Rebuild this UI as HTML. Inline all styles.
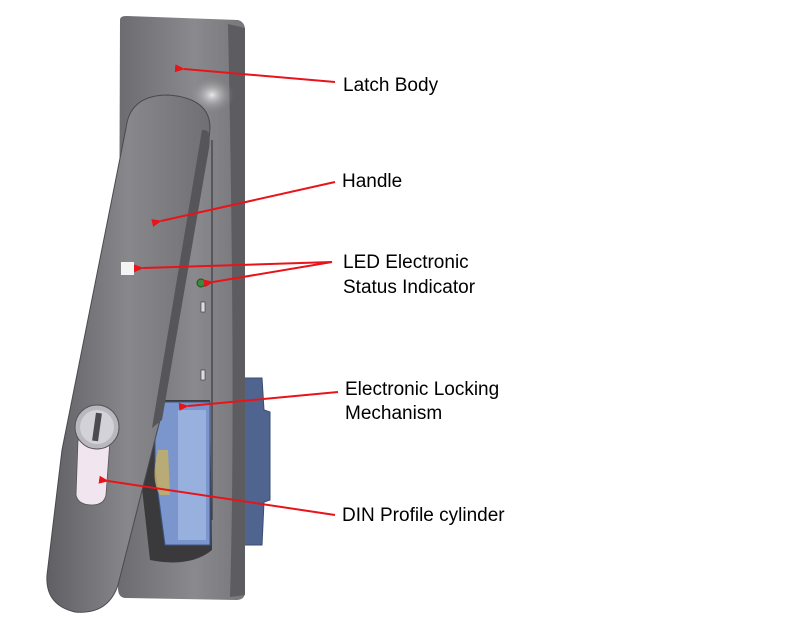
<!DOCTYPE html>
<html><head><meta charset="utf-8"><style>
html,body{margin:0;padding:0;background:#fff}
svg{display:block}
text{font-family:"Liberation Sans",Arial,sans-serif;font-size:19px;fill:#000}
</style></head><body>
<svg width="800" height="638" viewBox="0 0 800 638" xmlns="http://www.w3.org/2000/svg">
<defs>
<linearGradient id="body" x1="0" y1="0" x2="1" y2="0">
<stop offset="0" stop-color="#6c6c70"/><stop offset="0.6" stop-color="#8a8a8e"/><stop offset="1" stop-color="#77777b"/>
</linearGradient>
<linearGradient id="handle" x1="0" y1="0" x2="1" y2="0">
<stop offset="0" stop-color="#606064"/><stop offset="0.5" stop-color="#88888c"/><stop offset="1" stop-color="#707074"/>
</linearGradient>
<radialGradient id="hl" cx="0.5" cy="0.5" r="0.5">
<stop offset="0" stop-color="#e8e8ea"/><stop offset="1" stop-color="#8a8a8e" stop-opacity="0"/>
</radialGradient>
<marker id="ah" markerWidth="10" markerHeight="8" refX="1" refY="4" orient="auto-start-reverse" markerUnits="userSpaceOnUse">
<path d="M10,0 L0,4 L10,8 Z" fill="#e8141a"/>
</marker>
</defs>
<path d="M238,378 L262,378 L264,410 L270,412 L270,500 L264,502 L262,545 L238,545 Z" fill="#4f6590" stroke="#3a4c70"/>
<path d="M120,20 Q120,16 126,16 L238,20 Q245,22 245,30 L245,592 Q245,600 236,600 L126,598 Q118,598 118,588 Z" fill="url(#body)"/>
<path d="M228,24 L245,28 L245,595 L230,597 Q236,400 228,24 Z" fill="#5d5d61"/>
<ellipse cx="212" cy="95" rx="22" ry="18" fill="url(#hl)"/>
<line x1="212" y1="140" x2="212" y2="520" stroke="#4a4a4e" stroke-width="1.5"/>
<rect x="201" y="302" width="4" height="10" fill="#dcdcdc" stroke="#333" stroke-width="0.6"/>
<rect x="201" y="370" width="4" height="10" fill="#dcdcdc" stroke="#333" stroke-width="0.6"/>
<circle cx="201" cy="283" r="4" fill="#3c8a3c" stroke="#1f4f1f"/>
<path d="M150,400 L210,400 L212,550 Q190,568 150,560 L140,470 Z" fill="#3a3a3c"/>
<path d="M155,402 L210,402 L210,545 L165,545 L155,470 Z" fill="#7a96cc" stroke="#3d5588"/>
<rect x="178" y="410" width="28" height="130" fill="#97b0de"/>
<path d="M158,450 Q150,480 160,495 L170,495 L168,450 Z" fill="#c8b060" opacity="0.8"/>
<path d="M126,128 Q130,95 168,95 Q210,98 210,128 L208,150 L160,420 L118,585 Q108,615 75,612 Q45,605 47,575 L62,450 Z" fill="url(#handle)" stroke="#4a4a4e" stroke-width="1"/>
<path d="M202,130 Q212,128 209,148 L162,420 L152,428 Z" fill="#55555a"/>
<rect x="121" y="262" width="13" height="13" fill="#f4f4f4"/>
<path d="M78,440 L110,440 L106,495 Q104,505 92,505 Q78,505 76,495 Z" fill="#f1e6ef" stroke="#555" stroke-width="0.8"/>
<circle cx="97" cy="427" r="22" fill="#b8b8be" stroke="#555"/>
<circle cx="97" cy="427" r="17" fill="#d2d2d8"/>
<rect x="94" y="413" width="6" height="28" fill="#4a4a50" transform="rotate(8 97 427)"/>
<g stroke="#e8141a" stroke-width="2" fill="none">
<line x1="335" y1="82" x2="184" y2="69" marker-end="url(#ah)"/>
<line x1="335" y1="182" x2="161" y2="221" marker-end="url(#ah)"/>
<line x1="332" y1="262" x2="143" y2="268" marker-end="url(#ah)"/>
<line x1="332" y1="262" x2="213" y2="282" marker-end="url(#ah)"/>
<line x1="338" y1="392" x2="188" y2="406" marker-end="url(#ah)"/>
<line x1="335" y1="515" x2="108" y2="481" marker-end="url(#ah)"/>
</g>
<text x="343" y="91">Latch Body</text>
<text x="342" y="187">Handle</text>
<text x="343" y="268">LED Electronic</text>
<text x="343" y="293">Status Indicator</text>
<text x="345" y="395">Electronic Locking</text>
<text x="345" y="419">Mechanism</text>
<text x="342" y="521">DIN Profile cylinder</text>
</svg>
</body></html>
